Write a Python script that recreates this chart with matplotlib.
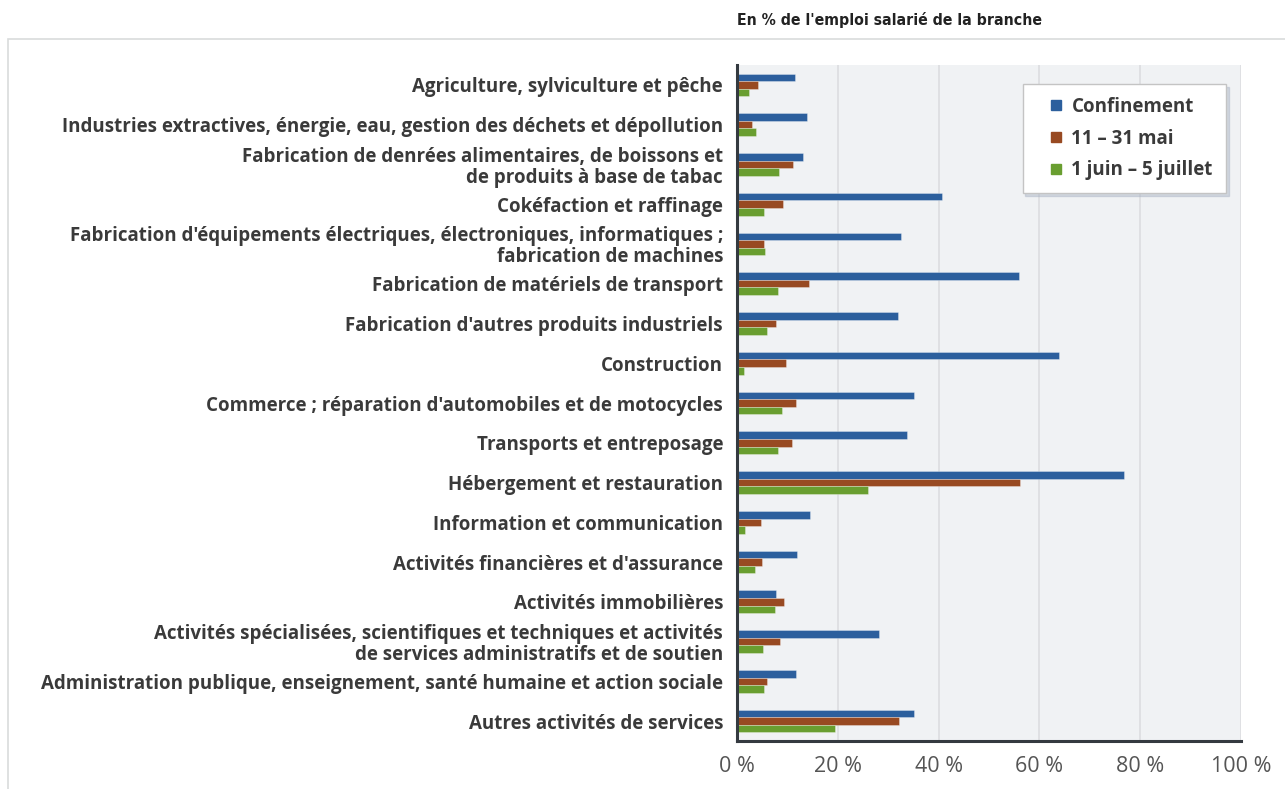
import matplotlib
matplotlib.use("Agg")
import matplotlib.pyplot as plt
import matplotlib.transforms as mtransforms
import numpy as np
from matplotlib.patches import Rectangle
from matplotlib.lines import Line2D

categories = [
    "Agriculture, sylviculture et pêche",
    "Industries extractives, énergie, eau, gestion des déchets et dépollution",
    "Fabrication de denrées alimentaires, de boissons et\nde produits à base de tabac",
    "Cokéfaction et raffinage",
    "Fabrication d'équipements électriques, électroniques, informatiques ;\nfabrication de machines",
    "Fabrication de matériels de transport",
    "Fabrication d'autres produits industriels",
    "Construction",
    "Commerce ; réparation d'automobiles et de motocycles",
    "Transports et entreposage",
    "Hébergement et restauration",
    "Information et communication",
    "Activités financières et d'assurance",
    "Activités immobilières",
    "Activités spécialisées, scientifiques et techniques et activités\nde services administratifs et de soutien",
    "Administration publique, enseignement, santé humaine et action sociale",
    "Autres activités de services",
]

confinement = [11.5, 13.9, 13.0, 40.6, 32.6, 55.9, 32.0, 63.9, 35.1, 33.8,
               76.7, 14.5, 11.9, 7.7, 28.1, 11.7, 35.2]
mai = [4.2, 3.0, 11.1, 9.2, 5.3, 14.2, 7.7, 9.8, 11.8, 10.9,
       56.1, 4.7, 5.0, 9.3, 8.6, 5.9, 32.2]
juin = [2.3, 3.7, 8.4, 5.4, 5.5, 8.1, 5.9, 1.4, 8.9, 8.2,
        26.0, 1.6, 3.5, 7.5, 5.1, 5.3, 19.5]

series_names = ["Confinement", "11 – 31 mai", "1 juin – 5 juillet"]
colors = ["#2c5f9d", "#984a22", "#699e30"]
x_ticks = [0, 20, 40, 60, 80, 100]

FONT = ["Open Sans", "DejaVu Sans"]
plt.rcParams["font.family"] = FONT

fig = plt.figure(figsize=(12.85, 7.89), dpi=100)
fig.patch.set_facecolor("white")

# panel frame behind chart
panel = Rectangle((8 / 1285, -0.1), 1.2, 1.1 - 39.5 / 789,
                  transform=fig.transFigure, facecolor="white",
                  edgecolor="#d9dcdc", linewidth=1.2, zorder=-5)
fig.patches.append(panel)

ax = fig.add_axes([737 / 1285, 1 - 741 / 789, 504 / 1285, 676 / 789])
ax.set_zorder(2)
ax.set_facecolor("#f0f2f4")

y = np.arange(len(categories))
h = 0.19
for i, (vals, col, name) in enumerate(zip([confinement, mai, juin], colors, series_names)):
    ax.barh(y + (i - 1) * h, vals, height=h, color=col, edgecolor=(1, 1, 1, 0.35),
            linewidth=0.6, label=name, zorder=3)

ax.set_ylim(len(categories) - 0.5, -0.5)
ax.set_xlim(0, 100)
ax.set_xticks(x_ticks)
ax.set_xticklabels([f"{t} %" for t in x_ticks], fontsize=15.5, color="#555555")
ax.set_yticks(y)
ax.set_yticklabels(categories, fontsize=13.5, fontweight="bold", color="#3a3a3a",
                   linespacing=1.04)
# nudge category labels up a little
shift = mtransforms.ScaledTranslation(0, 1.5 / 72, fig.dpi_scale_trans)
for lbl in ax.get_yticklabels():
    lbl.set_transform(lbl.get_transform() + shift)
ax.tick_params(axis="y", length=0, pad=10)
ax.tick_params(axis="x", length=0, pad=11)
ax.grid(axis="x", color="#dcdde0", linewidth=1.2, zorder=0)
ax.set_axisbelow(True)
for s in ["top", "right"]:
    ax.spines[s].set_visible(False)
for s in ["left", "bottom"]:
    ax.spines[s].set_color("#343a40")
    ax.spines[s].set_linewidth(2.2)
    ax.spines[s].set_zorder(5)

handles = [Line2D([], [], marker="s", linestyle="none", markersize=7.5,
                  color=c) for c in colors]
leg = ax.legend(handles, series_names, loc="upper right",
                bbox_to_anchor=(0.970, 0.972), borderaxespad=0,
                prop={"weight": "bold", "size": 13.5, "family": FONT},
                frameon=True, fancybox=False,
                shadow={"color": "#aab4c4", "alpha": 0.45},
                borderpad=0.7, labelspacing=0.62, handlelength=2.2,
                handletextpad=-0.3)
leg.get_frame().set_edgecolor("#c4c4c4")
leg.get_frame().set_linewidth(1.0)
for t in leg.get_texts():
    t.set_color("#3a3a3a")

fig.text(737 / 1285, 1 - 20 / 789, "En % de l'emploi salarié de la branche",
         fontsize=11.3, fontweight="bold", fontstretch="condensed", color="#222222",
         va="center", ha="left", family=["DejaVu Sans"])

fig.savefig("out.png", dpi=100)
